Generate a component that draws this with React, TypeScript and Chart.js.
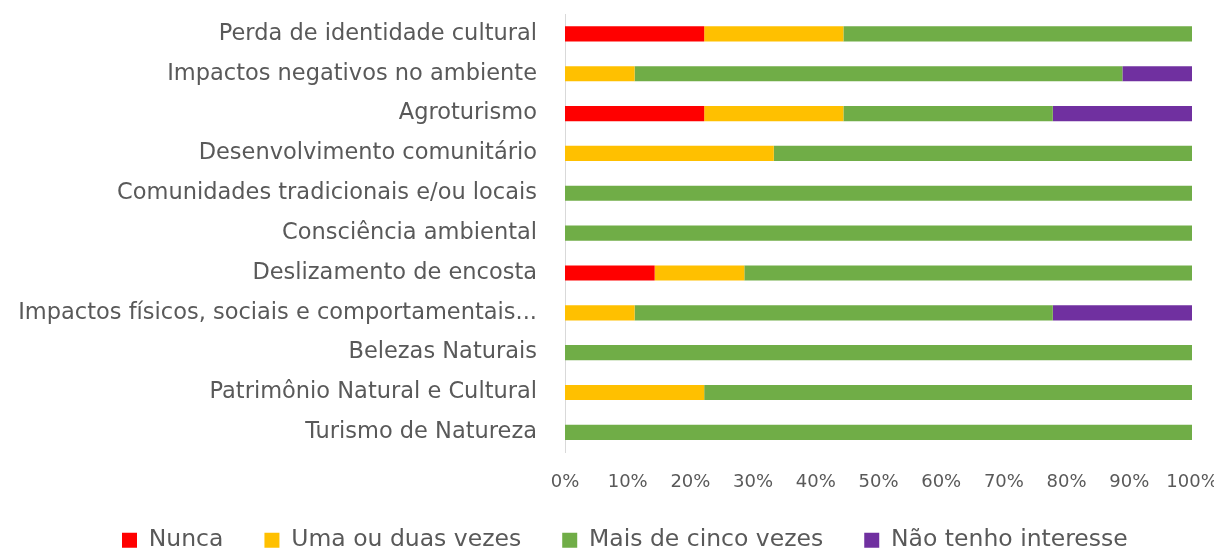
import React, { useEffect, useRef } from "react";
import { Chart, registerables } from "chart.js";

Chart.register(...registerables);

const categories = [
  "Perda de identidade cultural",
  "Impactos negativos no ambiente",
  "Agroturismo",
  "Desenvolvimento comunitário",
  "Comunidades tradicionais e/ou locais",
  "Consciência ambiental",
  "Deslizamento de encosta",
  "Impactos físicos, sociais e comportamentais...",
  "Belezas Naturais",
  "Patrimônio Natural e Cultural",
  "Turismo de Natureza",
];

const nunca = [22.2, 0, 22.2, 0, 0, 0, 14.3, 0, 0, 0, 0];
const umaOuDuas = [22.2, 11.1, 22.2, 33.3, 0, 0, 14.3, 11.1, 0, 22.2, 0];
const maisDeCinco = [55.6, 77.8, 33.4, 66.7, 100, 100, 71.4, 66.7, 100, 77.8, 100];
const naoTenho = [0, 11.1, 22.2, 0, 0, 0, 0, 22.2, 0, 0, 0];

const seriesNames = ["Nunca", "Uma ou duas vezes", "Mais de cinco vezes", "Não tenho interesse"];
const seriesColors = ["#FF0000", "#FFC000", "#70AD47", "#7030A0"];

const FONT = "'DejaVu Sans'";
const TEXT = "#595959";

const legendShift = {
  id: "legendShift",
  afterLayout(chart: any) {
    if (chart.legend) {
      chart.legend.left = 73;
    }
  },
};

export default function App() {
  const ref = useRef<HTMLCanvasElement | null>(null);

  useEffect(() => {
    if (!ref.current) return;
    const values = [nunca, umaOuDuas, maisDeCinco, naoTenho];
    const chart = new Chart(ref.current, {
      type: "bar",
      data: {
        labels: categories,
        datasets: seriesNames.map((name, i) => ({
          label: name,
          data: values[i],
          backgroundColor: seriesColors[i],
          borderWidth: 0,
          barPercentage: 0.38,
          categoryPercentage: 1,
        })),
      },
      plugins: [legendShift],
      options: {
        indexAxis: "y",
        animation: false,
        responsive: false,
        maintainAspectRatio: false,
        layout: { padding: { left: 0, top: 6, right: 22, bottom: 0 } },
        plugins: {
          tooltip: { enabled: false },
          legend: {
            position: "bottom",
            align: "start",
            labels: {
              boxWidth: 15,
              boxHeight: 15,
              padding: 41,
              color: TEXT,
              font: { family: FONT, size: 23.5 },
            },
          },
        },
        scales: {
          x: {
            stacked: true,
            min: 0,
            max: 100,
            grid: { display: false, drawTicks: false },
            border: { display: false },
            ticks: {
              stepSize: 10,
              padding: 19,
              color: TEXT,
              font: { family: FONT, size: 18 },
              callback: (v: any) => v + "%",
            },
            afterFit: (scale: any) => {
              scale.height = 35.25;
              scale.paddingLeft = 0;
              scale.paddingRight = 0;
              scale.paddingTop = 0;
              scale.paddingBottom = 0;
            },
          },
          y: {
            stacked: true,
            grid: { display: false, drawTicks: false },
            border: { display: true, color: "#D9D9D9", width: 1 },
            ticks: {
              padding: 28,
              color: TEXT,
              font: { family: FONT, size: 22.5 },
              autoSkip: false,
            },
            afterFit: (scale: any) => {
              scale.width = 557;
              scale.paddingTop = 0;
              scale.paddingBottom = 0;
              scale.paddingLeft = 0;
              scale.paddingRight = 0;
            },
          },
        },
      },
    });
    return () => chart.destroy();
  }, []);

  return (
    <div style={{ width: 1206, height: 554 }}>
      <canvas ref={ref} width={1206} height={554} style={{ display: "block" }} />
    </div>
  );
}
